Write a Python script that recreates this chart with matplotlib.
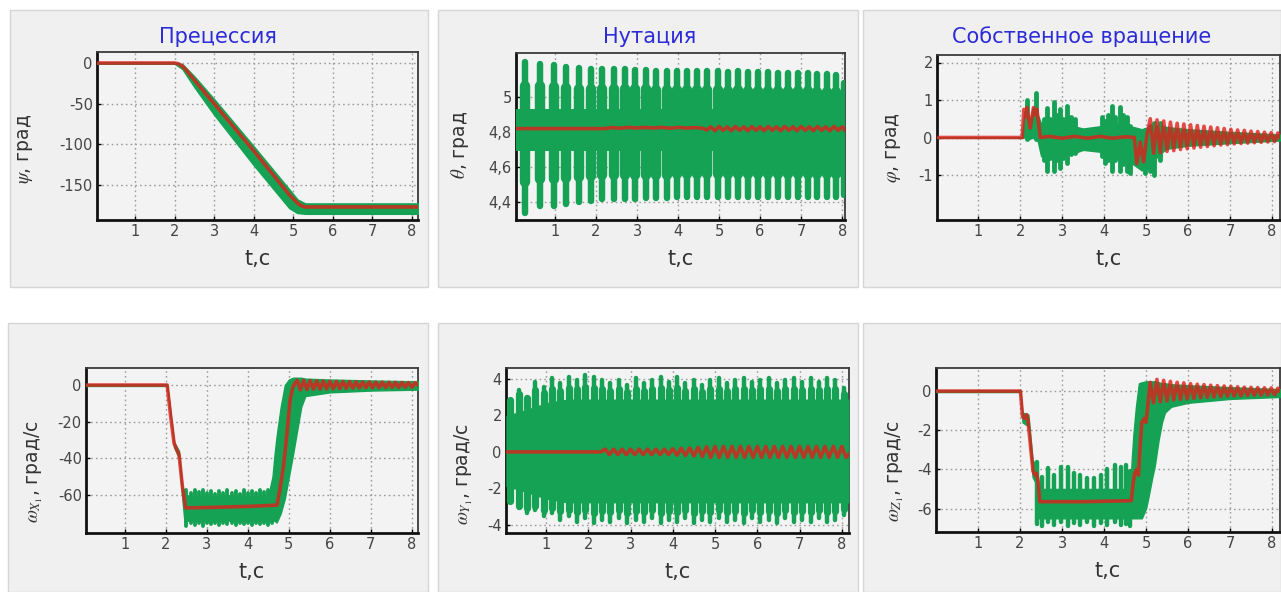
import numpy as np
import matplotlib
matplotlib.use('Agg')
import matplotlib.pyplot as plt
from matplotlib.patches import Rectangle
from matplotlib.ticker import FuncFormatter

plt.rcParams['font.family'] = ['DejaVu Sans']
plt.rcParams['axes.unicode_minus'] = False
plt.rcParams['mathtext.fontset'] = 'stix'

# ---------------- data ----------------
# Precession psi
psi_red_t = [0.04, 2.0, 2.1, 2.2, 2.3, 2.4, 2.5, 3.0, 3.5, 4.0, 4.5, 4.9, 5.0, 5.1, 5.2, 5.3, 8.15]
psi_red_v = [0, 0, -1, -4, -9, -15, -21, -50, -79, -108, -138, -162, -167, -172, -175.5, -177, -177]
psi_grn_t = [0.04, 2.0, 2.2, 2.5, 3.0, 4.0, 4.9, 5.1, 5.3, 8.15]
psi_grn_hi = [0.5, 0.5, -2, -17, -45, -103, -156, -168, -173, -173]
psi_grn_lo = [-0.5, -0.5, -7, -29, -63, -125, -178, -184, -185, -185]

# Nutation theta
th_core_t = [0.05, 8.07]
th_core_hi = [4.93, 4.93]
th_core_lo = [4.69, 4.69]
th_peak_t = [0.26, 0.64, 0.97, 1.28, 1.58, 1.88, 2.15, 2.43, 2.70, 2.96, 3.22, 3.46, 3.72, 3.98,
             4.22, 4.46, 4.71, 4.97, 5.21, 5.46, 5.70, 5.95, 6.20, 6.43, 6.68, 6.92, 7.16, 7.39,
             7.63, 7.84, 8.04]
th_peak_hi = [5.20, 5.19, 5.18, 5.17, 5.165, 5.16, 5.16, 5.16, 5.16, 5.155, 5.155, 5.15, 5.15, 5.15,
              5.15, 5.15, 5.145, 5.145, 5.14, 5.145, 5.14, 5.14, 5.14, 5.135, 5.135, 5.135, 5.135,
              5.13, 5.13, 5.125, 5.08]
th_peak_lo = [4.34, 4.38, 4.38, 4.39, 4.40, 4.41, 4.42, 4.42, 4.42, 4.42, 4.425, 4.425, 4.425, 4.43,
              4.43, 4.43, 4.43, 4.43, 4.43, 4.43, 4.43, 4.43, 4.43, 4.43, 4.43, 4.43, 4.43, 4.43,
              4.43, 4.43, 4.44]
th_red_t = [0.05, 2.2, 2.4, 2.6, 2.8, 3.0, 3.2, 3.4, 3.6, 3.8, 4.0, 4.2, 4.4, 4.6,
            4.7, 4.8, 4.9, 5.0, 5.1, 5.2, 5.3, 5.4, 5.5, 5.6, 5.7, 5.8, 5.9, 6.0, 6.1, 6.2, 6.3,
            6.4, 6.5, 6.6, 6.7, 6.8, 6.9, 7.0, 7.1, 7.2, 7.3, 7.4, 7.5, 7.6, 7.7, 7.8, 7.9, 8.0, 8.07]
th_red_v = [4.82, 4.82, 4.826, 4.822, 4.827, 4.823, 4.827, 4.823, 4.827, 4.822, 4.827, 4.823, 4.826, 4.822,
            4.812, 4.83, 4.808, 4.832, 4.81, 4.83, 4.808, 4.832, 4.81, 4.83, 4.808, 4.832, 4.81, 4.83,
            4.808, 4.832, 4.81, 4.83, 4.808, 4.832, 4.81, 4.83, 4.808, 4.832, 4.81, 4.83, 4.808, 4.832,
            4.81, 4.83, 4.808, 4.832, 4.81, 4.83, 4.81]

# Proper rotation phi
late_t = [5.10, 5.18, 5.26, 5.34, 5.42, 5.50, 5.58, 5.66, 5.74, 5.82, 5.90, 5.98, 6.06, 6.14,
          6.22, 6.30, 6.38, 6.46, 6.54, 6.62, 6.70, 6.78, 6.86, 6.94, 7.02, 7.10, 7.18, 7.26,
          7.34, 7.42, 7.50, 7.58, 7.66, 7.74, 7.82, 7.90, 7.98, 8.06, 8.14, 8.19]
phi_red_t = [0.02, 2.05, 2.09, 2.12, 2.16, 2.24, 2.32, 2.36, 2.4, 2.48, 2.7, 3.0, 3.3, 3.6, 3.9,
             4.2, 4.5, 4.72, 4.78, 4.86, 4.94, 5.02] + late_t
phi_red_v = [0, 0, 0.75, 0.55, 0.8, 0.25, 0.8, 0.6, 0.75, 0.0, 0.03, -0.02, 0.03, -0.02, 0.03,
             -0.02, 0.02, 0.0, -0.7, -0.12, -0.65, 0.05,
             0.5, -0.42, 0.47, -0.4, 0.44, -0.37, 0.41, -0.35, 0.38, -0.32, 0.36, -0.3, 0.34, -0.28,
             0.32, -0.26, 0.3, -0.24, 0.28, -0.22, 0.26, -0.2, 0.24, -0.19, 0.22, -0.17, 0.2, -0.16,
             0.19, -0.15, 0.17, -0.14, 0.16, -0.13, 0.14, -0.12, 0.13, -0.11, 0.12, 0.0]
phi_core_t = [0.02, 2.04, 2.1, 2.2, 2.3, 2.42, 2.5, 2.8, 3.2, 3.5, 3.9, 4.3, 4.7, 4.9, 5.1, 5.3,
              5.5, 6.0, 7.0, 8.19]
phi_core_hi = [0, 0, 0.7, 0.3, 0.8, 0.6, 0.38, 0.38, 0.32, 0.24, 0.3, 0.38, 0.28, 0.22, 0.3, 0.32,
               0.28, 0.22, 0.15, 0.08]
phi_core_lo = [0, 0, 0.0, -0.05, 0.0, -0.1, -0.5, -0.5, -0.45, -0.33, -0.38, -0.55, -0.72, -0.88,
               -0.8, -0.45, -0.3, -0.22, -0.15, -0.08]
phi_spk_t = [2.16, 2.38, 2.56, 2.64, 2.72, 2.80, 2.87, 2.95, 3.03, 3.11, 3.20, 3.31, 3.94, 4.02,
             4.10, 4.18, 4.26, 4.38, 4.46, 4.54, 4.62, 4.98, 5.10, 5.20, 5.33]
phi_spk_hi = [1.0, 1.2, 0.5, 0.78, 0.5, 0.95, 0.6, 0.75, 0.5, 0.85, 0.55, 0.5, 0.55, 0.45, 0.6,
              0.85, 0.55, 0.82, 0.6, 0.55, 0.3, 0.2, 0.3, 0.4, 0.4]
phi_spk_lo = [-0.05, -0.05, -0.6, -0.9, -0.55, -0.9, -0.6, -0.8, -0.55, -0.67, -0.45, -0.4, -0.5,
              -0.67, -0.6, -0.9, -0.6, -0.9, -0.7, -0.9, -0.95, -0.95, -0.9, -1.0, -0.6]

# omega_x
wx_red_t = [0.05, 2.03, 2.12, 2.2, 2.26, 2.32, 2.4, 2.48, 3.0, 4.0, 4.71, 4.78, 4.87, 4.95, 5.03,
            5.1, 5.15,
            5.20, 5.28, 5.36, 5.44, 5.52, 5.60, 5.68, 5.76, 5.84, 5.92, 6.00, 6.08, 6.16, 6.24,
            6.32, 6.40, 6.48, 6.56, 6.64, 6.72, 6.80, 6.88, 6.96, 7.04, 7.12, 7.20, 7.28, 7.36,
            7.44, 7.52, 7.60, 7.68, 7.76, 7.84, 7.92, 8.00, 8.08, 8.15]
wx_red_v = [0, 0, -18, -32, -35, -38, -55, -67, -66.8, -66.2, -65.5, -57, -44, -27, -8, -1, 1,
            2.6, -2.6, 2.5, -2.4, 2.4, -2.3, 2.3, -2.2, 2.2, -2.1, 2.1, -2.0, 2.0, -1.9, 1.9,
            -1.8, 1.8, -1.7, 1.8, -1.6, 1.7, -1.5, 1.7, -1.5, 1.6, -1.4, 1.6, -1.4, 1.5, -1.3,
            1.5, -1.3, 1.4, -1.2, 1.4, -1.2, 1.3, 0.0]
wx_core_t = [0.05, 2.03, 2.2, 2.32, 2.4, 2.45, 3.0, 3.5, 4.0, 4.5, 4.6, 4.65, 4.7, 4.8, 4.9, 5.0,
             5.1, 5.2, 5.3, 5.4, 6.0, 7.0, 8.15]
wx_core_hi = [0.5, 0.5, -31, -36, -55, -60, -61, -60, -61, -60, -50, -38, -28, -12, 0, 3, 4,
              4, 4, 3.5, 3, 2.5, 2]
wx_core_lo = [-0.5, -0.5, -34, -40, -62, -74, -74, -74, -74, -74, -74, -74, -75, -70, -62, -50,
              -38, -25, -12, -6, -4, -3, -2.5]
wx_spk_t = [2.5, 2.6, 2.7, 2.8, 2.9, 3.0, 3.1, 3.2, 3.3, 3.4, 3.5, 3.6, 3.7, 3.8, 3.9, 4.0, 4.1,
            4.2, 4.3, 4.4, 4.5, 4.6]
wx_spk_hi = [-57, -59, -57.5, -58.5, -57, -59, -58, -59.5, -58, -59, -57.5, -59, -58, -59.5,
             -57.5, -59, -58, -59, -57, -58.5, -57.5, -58]
wx_spk_lo = [-77, -75, -76.5, -75, -77, -75.5, -76, -75, -76.5, -75, -76, -75, -76.5, -75, -76,
             -75, -76.5, -75.5, -76, -75, -76.5, -75.5]

# omega_y
wy_core_t = [0.05, 0.5, 1.0, 1.5, 8.17]
wy_core_hi = [2.0, 2.3, 2.7, 2.9, 2.9]
wy_core_lo = [-1.9, -2.2, -2.6, -2.8, -2.8]
wy_peak_t = [0.16, 0.36, 0.55, 0.75, 0.95, 1.14, 1.34, 1.54, 1.74, 1.93, 2.13, 2.33, 2.52, 2.72,
             2.92, 3.12, 3.31, 3.51, 3.71, 3.90, 4.10, 4.30, 4.50, 4.69, 4.89, 5.09, 5.28, 5.48,
             5.68, 5.88, 6.07, 6.27, 6.47, 6.66, 6.86, 7.06, 7.26, 7.45, 7.65, 7.85, 8.04]
wy_peak_hi = [2.76, 3.40, 3.03, 3.85, 3.58, 4.04, 3.76, 4.13, 3.95, 4.22, 4.13, 3.95, 3.76, 3.95,
              3.67, 4.04, 3.76, 3.95, 4.13, 3.85, 4.13, 3.76, 3.95, 3.67, 3.95, 4.04, 3.76, 3.95,
              4.04, 3.85, 3.95, 4.04, 3.76, 3.95, 4.04, 3.85, 4.04, 3.85, 4.04, 3.95, 3.49]
wy_peak_lo = [-2.63, -3.09, -3.36, -3.18, -3.54, -3.36, -3.73, -3.54, -3.82, -3.63, -3.91, -3.73,
              -3.82, -3.63, -3.91, -3.73, -3.82, -3.63, -3.91, -3.73, -3.82, -3.63, -3.91, -3.73,
              -3.82, -3.63, -3.82, -3.73, -3.91, -3.63, -3.82, -3.73, -3.91, -3.63, -3.82, -3.73,
              -3.82, -3.63, -3.82, -3.73, -3.45]
wy_red_t = [0.05, 2.3, 2.4, 2.5, 2.6, 2.7, 2.8, 2.9, 3.0, 3.1, 3.2, 3.3, 3.4, 3.5, 3.6, 3.7, 3.8,
            3.9, 4.0, 4.1, 4.2, 4.3, 4.4, 4.5, 4.6, 4.7, 4.8, 4.9, 5.0, 5.1, 5.2, 5.3, 5.4, 5.5,
            5.6, 5.7, 5.8, 5.9, 6.0, 6.1, 6.2, 6.3, 6.4, 6.5, 6.6, 6.7, 6.8, 6.9, 7.0, 7.1, 7.2,
            7.3, 7.4, 7.5, 7.6, 7.7, 7.8, 7.9, 8.0, 8.1, 8.17]
wy_red_v = [0, 0, 0.15, -0.15, 0.15, -0.15, 0.15, -0.15, 0.15, -0.15, 0.15, -0.15, 0.15, -0.15,
            0.15, -0.15, 0.15, -0.15, 0.18, -0.18, 0.2, -0.2, 0.22, -0.22, 0.25, -0.25, 0.28,
            -0.3, 0.3, -0.3, 0.3, -0.3, 0.3, -0.3, 0.3, -0.3, 0.3, -0.3, 0.3, -0.3, 0.3, -0.3,
            0.3, -0.3, 0.3, -0.3, 0.3, -0.3, 0.3, -0.3, 0.3, -0.3, 0.3, -0.3, 0.3, -0.3, 0.3,
            -0.3, 0.3, -0.3, -0.1]

# omega_z
wz_red_t = [0.0, 2.01, 2.06, 2.12, 2.16, 2.19, 2.25, 2.31, 2.36, 2.39, 2.43, 2.47, 3.5, 4.65,
            4.7, 4.73, 4.78, 4.82, 4.86, 4.9, 4.96, 5.0, 5.05] + late_t
wz_red_v = [0, 0, -1.3, -1.4, -1.2, -1.5, -2.8, -4.1, -4.3, -4.2, -4.6, -5.65, -5.65, -5.6,
            -4.6, -4.2, -4.0, -4.3, -2.8, -1.6, -1.4, -1.6, -0.6,
            0.45, -0.6, 0.6, -0.55, 0.55, -0.5, 0.5, -0.45, 0.45, -0.42, 0.42, -0.4, 0.38, -0.37,
            0.35, -0.34, 0.33, -0.32, 0.3, -0.3, 0.28, -0.28, 0.26, -0.26, 0.24, -0.25, 0.22,
            -0.24, 0.2, -0.22, 0.19, -0.21, 0.18, -0.2, 0.17, -0.19, 0.16, -0.18, 0.15, 0.0]
wz_core_t = [0.0, 2.01, 2.06, 2.2, 2.3, 2.4, 2.45, 3.0, 3.5, 4.0, 4.5, 4.63, 4.66, 4.7, 4.76,
             4.83, 4.9, 5.0, 5.06, 5.15, 5.21, 5.3, 5.38, 5.45, 5.6, 6.0, 7.0, 8.19]
wz_core_hi = [0.05, 0.05, -1.1, -1.2, -3.5, -4.0, -5.0, -5.0, -5.0, -5.0, -5.0, -4.8, -3.5, -2.2,
              -0.8, 0.4, 0.45, 0.5, 0.5, 0.5, 0.5, 0.45, 0.4, 0.4, 0.35, 0.3, 0.2, 0.1]
wz_core_lo = [-0.05, -0.05, -1.6, -1.8, -4.4, -4.8, -6.5, -6.5, -6.5, -6.5, -6.5, -6.5, -6.5,
              -6.5, -6.5, -6.5, -6.5, -6.0, -5.4, -4.4, -3.8, -2.5, -1.6, -1.1, -0.8, -0.6,
              -0.4, -0.3]
wz_spk_t = [2.41, 2.53, 2.66, 2.8, 2.98, 3.14, 3.29, 3.44, 3.6, 3.76, 3.92, 4.08, 4.25, 4.41,
            4.52, 4.62]
wz_spk_hi = [-3.6, -4.4, -3.95, -4.3, -3.9, -3.9, -4.2, -4.3, -4.45, -4.45, -4.3, -4.0, -3.8,
             -3.9, -3.8, -4.1]
wz_spk_lo = [-6.8, -6.9, -6.7, -6.85, -6.7, -6.9, -6.75, -6.85, -6.7, -6.9, -6.75, -6.85, -6.7,
             -6.85, -6.8, -6.9]

titles = ['Прецессия', 'Нутация', 'Собственное вращение']
ylabels = [r'$\psi$, град', r'$\theta$, град', r'$\varphi$, град',
           r'$\omega_{X_1}$, град/с', r'$\omega_{Y_1}$, град/с', r'$\omega_{Z_1}$, град/с']
xticks = [1, 2, 3, 4, 5, 6, 7, 8]
yticks = [[0, -50, -100, -150], [4.4, 4.6, 4.8, 5.0], [-1, 0, 1, 2],
          [0, -20, -40, -60], [-4, -2, 0, 2, 4], [0, -2, -4, -6]]

# ---------------- layout (pixels of the 1281x592 picture) ----------------
W, H = 1281, 592
GREEN = '#16a254'
RED = '#df1f1a'

bg_boxes = [(10, 10, 428, 287), (438, 10, 858, 287), (863, 10, 1281, 287),
            (8, 323, 428, 592), (438, 323, 858, 592), (863, 323, 1281, 592)]
ax_boxes = [(97, 52, 418, 220), (516, 53, 845, 220), (937, 55, 1280, 220),
            (86, 368, 418, 533), (506, 368, 849, 533), (936, 368, 1280, 532)]
xlims = [(0.04, 8.15), (0.05, 8.07), (0.02, 8.19), (0.05, 8.15), (0.054, 8.17), (0.0, 8.19)]
ylims = [(-193, 13.5), (4.30, 5.25), (-2.2, 2.2), (-80.7, 9.3), (-4.45, 4.6), (-7.2, 1.18)]
ylab_xy = [(-0.193, 0.42), (-0.137, 0.45), (-0.099, 0.44),
           (-0.123, 0.37), (-0.090, 0.36), (-0.087, 0.37)]
title_x = [218, 650, 1082]

fig = plt.figure(figsize=(W / 100, H / 100), dpi=100)

for l, t, r, b in bg_boxes:
    fig.patches.append(Rectangle((l / W, 1 - b / H), (r - l) / W, (b - t) / H,
                                 transform=fig.transFigure, facecolor='#f0f0f0',
                                 edgecolor='#d6d6d6', lw=1, zorder=-10))

comma = FuncFormatter(lambda v, p: ('%g' % v).replace('.', ','))

axes = []
for i, (l, t, r, b) in enumerate(ax_boxes):
    ax = fig.add_axes([l / W, 1 - b / H, (r - l) / W, (b - t) / H], zorder=2)
    ax.set_facecolor('#f3f3f3')
    ax.set_xlim(*xlims[i])
    ax.set_ylim(*ylims[i])
    ax.set_xticks(xticks)
    ax.set_yticks(yticks[i])
    ax.yaxis.set_major_formatter(comma)
    ax.tick_params(direction='in', length=3, width=1, labelsize=10.5,
                   labelcolor='#444444', pad=3)
    ax.grid(True, color='#9c9c9c', linestyle=(0, (1.2, 2.2)), linewidth=1)
    ax.set_axisbelow(True)
    for side in ['left', 'bottom']:
        ax.spines[side].set_linewidth(2.0)
        ax.spines[side].set_color('#111111')
    for side in ['top', 'right']:
        ax.spines[side].set_linewidth(1.3)
        ax.spines[side].set_color('#3a3a3a')
    ax.set_xlabel('t,c', fontsize=15, color='#333333', labelpad=7)
    ax.set_ylabel(ylabels[i], fontsize=13.5, color='#333333')
    ax.yaxis.set_label_coords(*ylab_xy[i])
    axes.append(ax)

for x, title in zip(title_x, titles):
    fig.text(x / W, 1 - 37 / H, title, ha='center', va='center', fontsize=15,
             color='#2b2bd9')

red_kw = dict(color=RED, lw=2.6, alpha=0.8, solid_joinstyle='round', zorder=5)


def teeth(ax, t, lo, hi, core_lo, core_hi, lw):
    # tapered teeth: a thick foot near the core and a thinner tip
    lo = np.asarray(lo)
    hi = np.asarray(hi)
    ax.vlines(t, lo, hi, colors=GREEN, linewidth=lw * 0.62, capstyle='round', zorder=3)
    ax.vlines(t, (lo + core_lo) / 2, (hi + core_hi) / 2, colors=GREEN, linewidth=lw,
              capstyle='round', zorder=3)


# psi
ax = axes[0]
ax.fill_between(psi_grn_t, psi_grn_lo, psi_grn_hi, color=GREEN, lw=1.5, edgecolor=GREEN, zorder=3)
ax.plot(psi_red_t, psi_red_v, **red_kw)

# theta
ax = axes[1]
ax.fill_between(th_core_t, th_core_lo, th_core_hi, color=GREEN, lw=0, zorder=3)
teeth(ax, th_peak_t, th_peak_lo, th_peak_hi, th_core_lo[0], th_core_hi[0], 7.5)
ax.plot(th_red_t, th_red_v, **red_kw)

# phi
ax = axes[2]
ax.fill_between(phi_core_t, phi_core_lo, phi_core_hi, color=GREEN, lw=1, edgecolor=GREEN, zorder=3)
ax.vlines(phi_spk_t, phi_spk_lo, phi_spk_hi, colors=GREEN, linewidth=3.5, capstyle='round', zorder=3)
ax.plot(phi_red_t, phi_red_v, **red_kw)

# omega_x
ax = axes[3]
ax.fill_between(wx_core_t, wx_core_lo, wx_core_hi, color=GREEN, lw=1, edgecolor=GREEN, zorder=3)
ax.vlines(wx_spk_t, wx_spk_lo, wx_spk_hi, colors=GREEN, linewidth=2.8, capstyle='round', zorder=3)
ax.plot(wx_red_t, wx_red_v, **red_kw)

# omega_y
ax = axes[4]
ax.fill_between(wy_core_t, wy_core_lo, wy_core_hi, color=GREEN, lw=0, zorder=3)
teeth(ax, wy_peak_t, wy_peak_lo, wy_peak_hi, wy_core_lo[-1], wy_core_hi[-1], 5.2)
ax.plot(wy_red_t, wy_red_v, **red_kw)

# omega_z
ax = axes[5]
ax.fill_between(wz_core_t, wz_core_lo, wz_core_hi, color=GREEN, lw=1, edgecolor=GREEN, zorder=3)
ax.vlines(wz_spk_t, wz_spk_lo, wz_spk_hi, colors=GREEN, linewidth=3.2, capstyle='round', zorder=3)
ax.plot(wz_red_t, wz_red_v, **red_kw)

fig.savefig('out.png', dpi=100)
